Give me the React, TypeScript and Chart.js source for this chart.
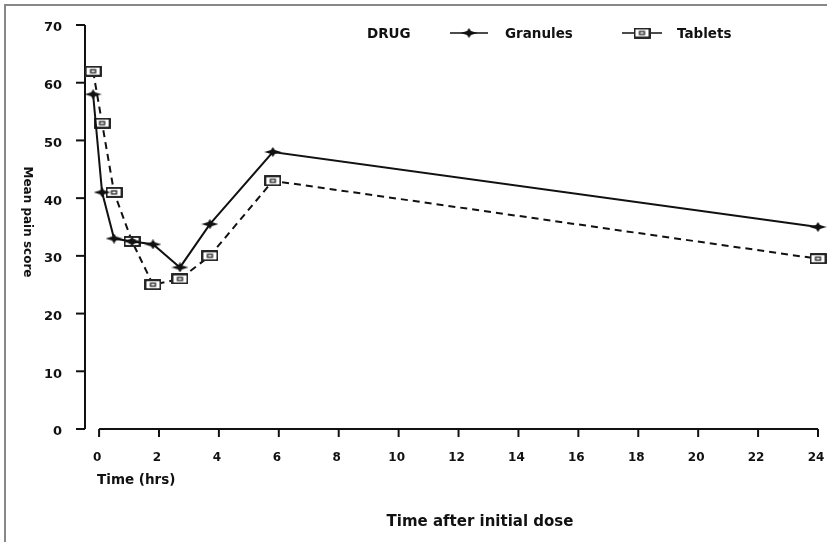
import React, { useEffect, useRef } from "react";
import { Chart, registerables } from "chart.js";
Chart.register(...registerables);

const times = [-0.2, 0.1, 0.5, 1.1, 1.8, 2.7, 3.7, 5.8, 24];
const granules = [58, 41, 33, 32.5, 32, 28, 35.5, 48, 35];
const tablets = [62, 53, 41, 32.5, 25, 26, 30, 43, 29.5];
const xTicks = [0, 2, 4, 6, 8, 10, 12, 14, 16, 18, 20, 22, 24];
const yTicks = [0, 10, 20, 30, 40, 50, 60, 70];
const seriesNames = ["Granules", "Tablets"];
const legendTitle = "DRUG";
const yTitle = "Mean pain score";
const xSubTitle = "Time (hrs)";
const xTitle = "Time after initial dose";

const FONT = "'DejaVu Sans', 'Liberation Sans', sans-serif";

function makeDiamond(): HTMLCanvasElement {
  const c = document.createElement("canvas");
  c.width = 17;
  c.height = 10;
  const g = c.getContext("2d")!;
  g.fillStyle = "#111";
  g.beginPath();
  g.moveTo(0, 5);
  g.lineTo(6.5, 3);
  g.lineTo(8.5, 0);
  g.lineTo(10.5, 3);
  g.lineTo(17, 5);
  g.lineTo(10.5, 7);
  g.lineTo(8.5, 10);
  g.lineTo(6.5, 7);
  g.closePath();
  g.fill();
  return c;
}

function makeRect(): HTMLCanvasElement {
  const c = document.createElement("canvas");
  c.width = 17;
  c.height = 11;
  const g = c.getContext("2d")!;
  g.fillStyle = "#fff";
  g.fillRect(0, 0, 17, 11);
  g.strokeStyle = "#111";
  g.lineWidth = 1.8;
  g.strokeRect(1, 1, 15, 9);
  g.lineWidth = 1.2;
  g.strokeRect(6, 4, 5, 3);
  return c;
}

export default function App() {
  const ref = useRef<HTMLCanvasElement | null>(null);

  useEffect(() => {
    document.body.style.margin = "0";
    const canvas = ref.current!;
    const diamond = makeDiamond();
    const rect = makeRect();

    const deco = {
      id: "deco",
      beforeDatasetsDraw(chart: any) {
        const { ctx, scales } = chart;
        const x = scales.x;
        const y = scales.y;
        ctx.save();
        // frame
        ctx.fillStyle = "#888";
        ctx.fillRect(4, 4, 823, 2);
        ctx.fillRect(4, 4, 2, 538);

        ctx.strokeStyle = "#111";
        ctx.lineWidth = 2;
        const left = chart.chartArea.left;
        const y0 = y.getPixelForValue(0);
        const yTop = y.getPixelForValue(70);
        // y axis
        ctx.beginPath();
        ctx.moveTo(left, yTop);
        ctx.lineTo(left, y0);
        ctx.stroke();
        ctx.font = `bold 13px ${FONT}`;
        ctx.fillStyle = "#111";
        ctx.textAlign = "right";
        ctx.textBaseline = "middle";
        for (const v of yTicks) {
          const py = y.getPixelForValue(v);
          ctx.beginPath();
          ctx.moveTo(left - 9, py);
          ctx.lineTo(left, py);
          ctx.stroke();
          ctx.fillText(String(v), 62, py + 3);
        }
        // x axis
        const x0 = x.getPixelForValue(0);
        const x24 = x.getPixelForValue(24);
        ctx.beginPath();
        ctx.moveTo(x0, y0);
        ctx.lineTo(x24, y0);
        ctx.stroke();
        ctx.textAlign = "center";
        ctx.font = `bold 12px ${FONT}`;
        for (const v of xTicks) {
          const px = x.getPixelForValue(v);
          ctx.beginPath();
          ctx.moveTo(px, y0);
          ctx.lineTo(px, y0 + 8);
          ctx.stroke();
          ctx.fillText(String(v), px - 2, y0 + 29);
        }
        ctx.restore();
      },
      afterDraw(chart: any) {
        const { ctx, scales } = chart;
        const x = scales.x;
        ctx.save();
        ctx.fillStyle = "#111";
        ctx.strokeStyle = "#111";
        ctx.textBaseline = "middle";
        // x sub title
        ctx.font = `bold 13.5px ${FONT}`;
        ctx.textAlign = "left";
        ctx.fillText(xSubTitle, x.getPixelForValue(0) - 2, 480);
        // x title
        ctx.font = `bold 15px ${FONT}`;
        ctx.textAlign = "center";
        ctx.fillText(xTitle, 480, 522);
        // y title, rotated clockwise
        ctx.save();
        ctx.translate(27, 222);
        ctx.rotate(Math.PI / 2);
        ctx.font = `bold 12px ${FONT}`;
        ctx.textAlign = "center";
        ctx.fillText(yTitle, 0, 0);
        ctx.restore();
        // legend
        ctx.font = `bold 13.5px ${FONT}`;
        ctx.textAlign = "left";
        ctx.fillText(legendTitle, 367, 34);
        ctx.lineWidth = 1.6;
        ctx.beginPath();
        ctx.moveTo(450, 33);
        ctx.lineTo(488, 33);
        ctx.stroke();
        ctx.drawImage(diamond, 469 - 8.5, 33 - 5);
        ctx.fillText(seriesNames[0], 505, 34);
        ctx.beginPath();
        ctx.moveTo(622, 33);
        ctx.lineTo(662, 33);
        ctx.stroke();
        ctx.drawImage(rect, 642 - 8.5, 33 - 5.5);
        ctx.fillText(seriesNames[1], 677, 34);
        ctx.restore();
      },
    };

    const chart = new Chart(canvas, {
      type: "line",
      data: {
        datasets: [
          {
            label: seriesNames[0],
            data: times.map((t, i) => ({ x: t, y: granules[i] })),
            borderColor: "#111",
            borderWidth: 2,
            pointStyle: diamond as any,
            pointRadius: 6,
            clip: false as any,
            tension: 0,
          },
          {
            label: seriesNames[1],
            data: times.map((t, i) => ({ x: t, y: tablets[i] })),
            borderColor: "#111",
            borderWidth: 2,
            borderDash: [7, 5],
            pointStyle: rect as any,
            pointRadius: 6,
            clip: false as any,
            tension: 0,
          },
        ],
      },
      options: {
        responsive: false,
        animation: false,
        layout: { padding: { left: 85, right: 9, top: 25, bottom: 113 } },
        plugins: { legend: { display: false }, tooltip: { enabled: false } },
        scales: {
          x: { type: "linear", min: -0.47, max: 24, display: false },
          y: { type: "linear", min: 0, max: 70, display: false },
        },
      },
      plugins: [deco],
    });
    return () => chart.destroy();
  }, []);

  return (
    <div style={{ width: 827, height: 542, background: "#fff" }}>
      <canvas ref={ref} width={827} height={542} style={{ display: "block" }} />
    </div>
  );
}
